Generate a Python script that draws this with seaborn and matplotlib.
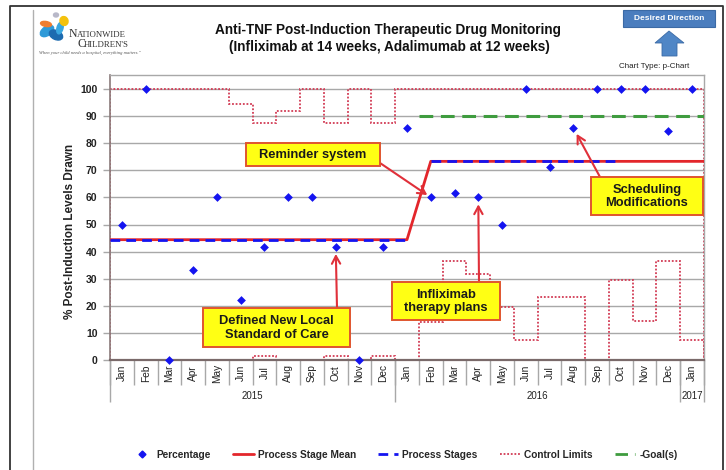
import numpy as np
import pandas as pd
import matplotlib
matplotlib.use("Agg")
import matplotlib.pyplot as plt
import seaborn as sns
from matplotlib.lines import Line2D
from matplotlib.patches import Rectangle, Polygon, Ellipse

# ---------------- data ----------------
months = ['Jan', 'Feb', 'Mar', 'Apr', 'May', 'Jun', 'Jul', 'Aug', 'Sep', 'Oct', 'Nov', 'Dec'] * 2 + ['Jan']
years = ['2015'] * 12 + ['2016'] * 12 + ['2017']
pct = [50, 100, 0, 33.3, 60, 22.2, 41.7, 60, 60, 41.7, 0, 41.7,
       85.7, 60, 61.5, 60, 50, 100, 71.4, 85.7, 100, 100, 100, 84.6, 100]
stage_mean = [44.4] * 13 + [73.3] * 12
stage_shown = [True] * 13 + [True] * 9 + [False] * 3
ucl = [100, 100, 100, 100, 100, 94.4, 87.5, 91.7, 100, 87.5, 100, 87.5, 100,
       100, 100, 100, 100, 100, 100, 100, 100, 100, 100, 100, 100]
lcl = [0, 0, 0, 0, 0, 0, 1.5, 0, 0, 1.5, 0, 1.5, 0,
       14.1, 36.6, 31.7, 19.7, 7.4, 23.4, 23.4, 0, 29.5, 14.5, 36.6, 7.4]
goal = [np.nan] * 13 + [90] * 12
yticks = [0, 10, 20, 30, 40, 50, 60, 70, 80, 90, 100]

title1 = "Anti-TNF Post-Induction Therapeutic Drug Monitoring"
title2 = "(Infliximab at 14 weeks, Adalimumab at 12 weeks)"
ylabel = "% Post-Induction Levels Drawn"
legend_labels = ["Percentage", "Process Stage Mean", "Process Stages", "Control Limits", "-Goal(s)"]

df = pd.DataFrame({"idx": np.arange(len(pct)), "month": months, "year": years,
                   "pct": pct, "mean": stage_mean, "ucl": ucl, "lcl": lcl, "goal": goal})

# ---------------- style ----------------
sns.set_style("white")
FONT = ['Liberation Sans', 'DejaVu Sans']
plt.rcParams['font.family'] = FONT

RED = '#e3262b'
BLUE = '#1414f0'
GREEN = '#3f9c3f'
LIM = '#d23c55'
GRID = '#a8a8a8'

W, H = 726, 470
fig = plt.figure(figsize=(W / 100, H / 100), dpi=100)
ax = fig.add_axes([110 / W, 110 / H, 594 / W, 285 / H])
n = len(pct)
x = df["idx"].to_numpy()
ax.set_xlim(-0.5, n - 0.5)
ax.set_ylim(0, 285 / 2.71)

# grid
for v in yticks[1:]:
    ax.axhline(v, color=GRID, lw=1, zorder=1)

# control limits
edges = np.arange(n + 1) - 0.5
ax.stairs(df["ucl"], edges, color=LIM, lw=1.3, linestyle=(0, (1, 1)), zorder=2)
ax.stairs(df["lcl"], edges, color=LIM, lw=1.3, linestyle=(0, (1, 1)), zorder=2)

# goal
gmask = df["goal"].notna()
ax.hlines(df["goal"][gmask].iloc[0], x[gmask][0] - 0.5, n - 0.5, color=GREEN, lw=2.2,
          linestyle=(0, (4.5, 2.5)), zorder=3)

# process stage mean (red)
mx = np.r_[-0.5, x, n - 0.5]
my = np.r_[stage_mean[0], stage_mean, stage_mean[-1]]
sns.lineplot(x=mx, y=my, sort=False, color=RED, lw=2.0, ax=ax, zorder=4, estimator=None)

# process stages (blue dashed) per stage
sm = np.array(stage_mean)
shown = np.array(stage_shown)
for val in pd.unique(sm):
    sel = (sm == val) & shown
    xs = x[sel]
    x0 = xs[0] - 0.5 if xs[0] == 0 else xs[0]
    ax.plot([x0, xs[-1]], [val, val], color=BLUE, lw=2.0, linestyle=(0, (3.5, 2.2)), zorder=5)

# percentage points
sns.scatterplot(x="idx", y="pct", data=df, marker="D", s=20, color=BLUE, edgecolor=BLUE,
                linewidth=0, ax=ax, zorder=6, clip_on=False, legend=False)

# axes styling
ax.set_xlabel("")
ax.set_ylabel("")
for s in ["top", "right"]:
    ax.spines[s].set_color(GRID)
    ax.spines[s].set_linewidth(1)
ax.spines["left"].set_color('#8a7a7a')
ax.spines["left"].set_linewidth(1.2)
ax.spines["bottom"].set_color('#7a6a6a')
ax.spines["bottom"].set_linewidth(1.6)
ax.set_yticks(yticks)
ax.set_yticklabels([str(v) for v in yticks], fontsize=7.5, fontweight='bold', color='#222222')
ax.tick_params(axis='y', length=5, color=GRID, width=1, pad=4, left=True)
ax.set_xticks([])
ax.set_xticks(edges, minor=True)
ax.tick_params(axis='x', which='minor', length=18, color=GRID, width=1, bottom=True)
ax.set_xticklabels([], minor=True)

xtr = ax.get_xaxis_transform()
for i, m in enumerate(months):
    ax.text(i, -13 / 285, m, transform=xtr, rotation=90, ha='center', va='center',
            fontsize=7.3, color='#222222')
# year separators and labels
yr = np.array(years)
bounds = [-0.5] + [i - 0.5 for i in range(1, n) if yr[i] != yr[i - 1]] + [n - 0.5]
ax.vlines(bounds, -42 / 285, 0, transform=xtr, color=GRID, lw=1, clip_on=False)
for y_ in pd.unique(yr):
    idxs = x[yr == y_]
    ax.text(idxs.mean(), -36 / 285, y_, transform=xtr, ha='center', va='center',
            fontsize=7, color='#222222')

ax.text(-0.067, 0.45, ylabel, transform=ax.transAxes, rotation=90, ha='center', va='center',
        fontsize=8.5, fontweight='bold', color='#222222')

# ---------------- overlay (decorations in pixel coords) ----------------
ov = fig.add_axes([0, 0, 1, 1], zorder=5)
ov.set_xlim(0, W)
ov.set_ylim(H, 0)
ov.axis('off')
ov.patch.set_alpha(0)

# frame lines
ov.plot([9.5, 9.5, 722.5, 722.5], [470, 6, 6, 470], color='#333333', lw=1.3)
ov.plot([33, 33], [10, 470], color='#b0b0b0', lw=1)

# titles
ov.text(388, 30, title1, ha='center', va='center', fontsize=9.8, fontweight='bold', color='#111111')
ov.text(389, 47, title2, ha='center', va='center', fontsize=9.8, fontweight='bold', color='#111111')

# logo
SERIF = ['Liberation Serif', 'DejaVu Serif']
ov.add_patch(Ellipse((47, 31), 15, 9, angle=-35, color='#2f9ad8'))
ov.add_patch(Ellipse((56, 35), 14, 9, angle=25, color='#1d6bb0'))
ov.add_patch(Ellipse((60, 28), 6, 12, angle=15, color='#3aa7e0'))
ov.add_patch(Ellipse((46, 24), 11, 5, angle=10, color='#ef7d30'))
ov.add_patch(Ellipse((64, 21), 8, 9, angle=-20, color='#f4c20d'))
ov.add_patch(Ellipse((56, 15), 5, 4, angle=0, color='#b8b8c8'))
ov.text(69, 34, "N", ha='left', va='center', fontsize=8.5, family=SERIF, color='#333333')
ov.text(77, 35, "ATIONWIDE", ha='left', va='center', fontsize=6.3, family=SERIF, color='#333333')
ov.text(77, 44, "C", ha='left', va='center', fontsize=8.5, family=SERIF, color='#333333')
ov.text(84, 45, "HILDREN'S", ha='left', va='center', fontsize=6.3, family=SERIF, color='#333333')
ov.text(39, 53, "When your child needs a hospital, everything matters.\u201d", ha='left', va='center',
        fontsize=3.3, style='italic', family=SERIF, color='#555555')

# desired direction
ov.add_patch(Rectangle((623, 10), 92, 17, facecolor='#4a7dbe', edgecolor='#3b6aa5', lw=0.8))
ov.text(669, 18.5, "Desired Direction", ha='center', va='center', fontsize=6, fontweight='bold', color='white')
ov.add_patch(Polygon([(669, 31), (684, 43), (677, 43), (677, 56), (662, 56), (662, 43), (655, 43)],
                     closed=True, facecolor='#4f86c6', edgecolor='#3b6aa5', lw=0.6))
ov.text(654, 67, "Chart Type: p-Chart", ha='center', va='center', fontsize=5.8, color='#222222')

# annotation boxes
boxes = [
    ((246, 143, 134, 23), "Reminder system"),
    ((203, 308, 147, 39), "Defined New Local\nStandard of Care"),
    ((392, 282, 108, 38), "Infliximab\ntherapy plans"),
    ((591, 177, 112, 38), "Scheduling\nModifications"),
]
for (bx, by, bw, bh), txt in boxes:
    ov.add_patch(Rectangle((bx, by), bw, bh, facecolor='#ffff14', edgecolor='#e0552e', lw=1.4, zorder=3))
    ov.text(bx + bw / 2, by + bh / 2 + 0.5, txt, ha='center', va='center', fontsize=9.3, fontweight='bold',
            color='#1a1a1a', linespacing=1.2, zorder=4)

arrows = [((380, 163), 13, 3), ((337, 308), 9, 5), ((479, 282), 15, 5), ((600, 177), 19, 5)]
for (sx, sy), i, shr in arrows:
    ax.annotate("", xy=(x[i], pct[i]), xycoords='data', xytext=(sx, sy), textcoords=ov.transData,
                arrowprops=dict(arrowstyle='->,head_length=0.55,head_width=0.3', color='#e0303a', lw=1.5,
                                shrinkA=0, shrinkB=shr), zorder=7)

# legend
handles = [
    Line2D([], [], marker='D', color=BLUE, linestyle='none', markersize=3.5),
    Line2D([], [], color=RED, lw=2),
    Line2D([], [], color=BLUE, lw=2, linestyle=(0, (3.5, 2.2))),
    Line2D([], [], color=LIM, lw=1.3, linestyle=(0, (1, 1))),
    Line2D([], [], color=GREEN, lw=2, linestyle=(0, (4.5, 2.5))),
]
fig.legend(handles, legend_labels, loc='center', bbox_to_anchor=(405 / W, 1 - 455 / H), ncol=5,
           frameon=False, prop={'size': 7.3, 'weight': 'bold'},
           handlelength=2.0, columnspacing=2.2, handletextpad=0.4)

fig.savefig("out.png", dpi=100)
